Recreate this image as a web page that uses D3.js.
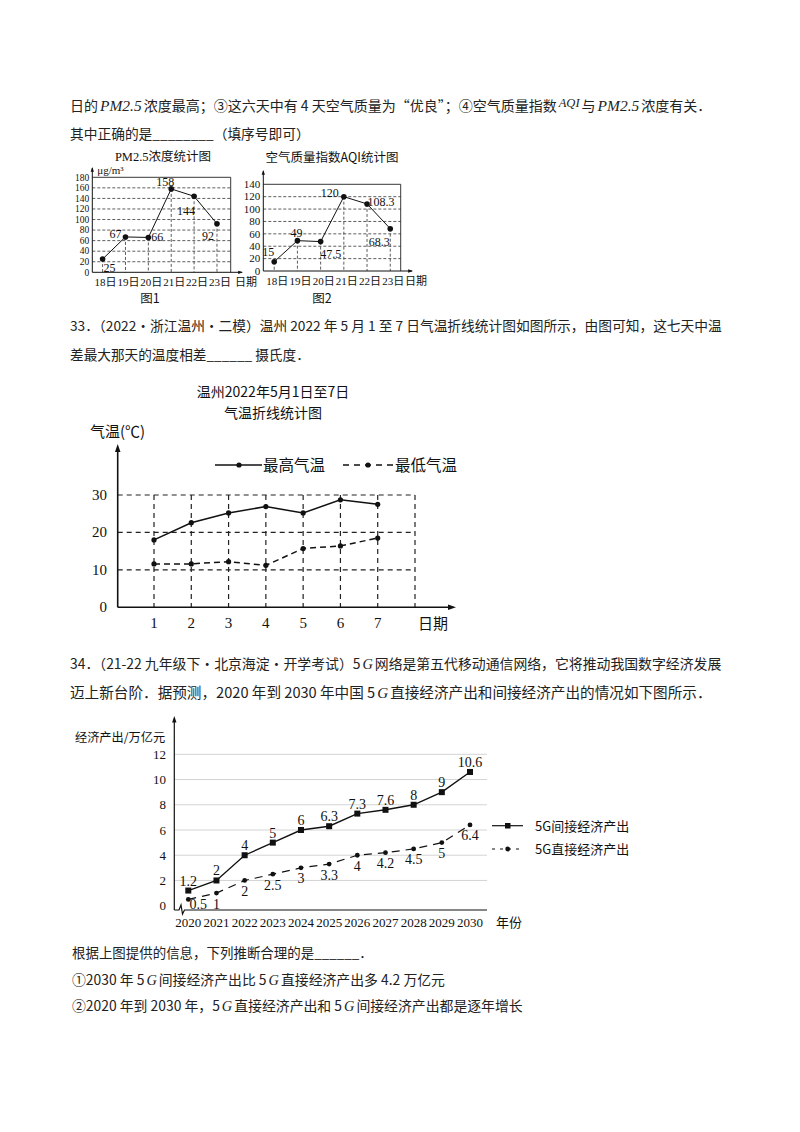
<!DOCTYPE html>
<html><head><meta charset="utf-8">
<script src="https://cdn.jsdelivr.net/npm/d3@7/dist/d3.min.js"></script>
<style>body{margin:0;background:#fff}svg{display:block}</style>
</head><body>
<script>
// ---------- data ----------
const pmDays = [18,19,20,21,22,23];
const pmValues = [25,67,66,158,144,92];
const pmTicks = [0,20,40,60,80,100,120,140,160,180];
const aqiDays = [18,19,20,21,22,23];
const aqiValues = [15,49,47.5,120,108.3,68.3];
const aqiTicks = [0,20,40,60,80,100,120,140];
const tempDays = [1,2,3,4,5,6,7];
const tempHigh = [18,22.6,25.2,26.9,25.2,28.7,27.5];
const tempLow = [11.6,11.6,12.2,11.2,15.7,16.4,18.5];
const tempTicks = [0,10,20,30];
const years = [2020,2021,2022,2023,2024,2025,2026,2027,2028,2029,2030];
const indirectOut = [1.2,2,4,5,6,6.3,7.3,7.6,8,9,10.6];
const directOut = [0.5,1,2,2.5,3,3.3,4,4.2,4.5,5,6.4];
const gTicks = [0,2,4,6,8,10,12];

// label offsets (layout only)
const pmLabelOff = [[7,9],[-10,-3],[9,0],[-6,-7],[-8,15],[-9,12]];
const aqiLabelOff = [[-6,-10],[-1,-8],[10,12],[-14,-4],[14,-2],[-11,13]];

const W = 800, H = 1132;
const svg = d3.select("body").append("svg").attr("width",W).attr("height",H);
svg.append("rect").attr("width",W).attr("height",H).attr("fill","#fff");

const SANS = "'Noto Sans CJK SC','Noto Sans',sans-serif";
const SERIF = "'Liberation Serif','DejaVu Serif','Noto Sans CJK SC',serif";

// ---------- body text: segments side by side, font size scaled so the line fits ----------
function bodyLine(x, y, len, parts){
  const GAP = 2;
  const g = svg.append("g").attr("fill","#222");
  const segs = parts.map(p=>{
    const o = typeof p === "string" ? {t:p} : p;
    const fs = o.s||(o.i?16:14.5);
    const t = g.append("text").attr("x",0).attr("y",y+5+(o.dy||0))
      .attr("font-size",fs).attr("font-family",o.i?SERIF:SANS)
      .attr("font-style",o.i?"italic":null).text(o.t);
    return {t, fs, w:t.node().getComputedTextLength()};
  });
  const total = d3.sum(segs,s=>s.w);
  const k = (len - GAP*(segs.length-1))/total;
  let cx = x;
  segs.forEach(s=>{
    s.t.attr("x",cx).attr("font-size",s.fs*k);
    cx += s.t.node().getComputedTextLength() + GAP;
  });
}
bodyLine(70,106,642,["日的",{t:"PM2.5",i:1},"浓度最高；③这六天中有 4 天空气质量为“优良”；④空气质量指数",{t:"AQI",i:1,s:13,dy:-4},"与",{t:"PM2.5",i:1},"浓度有关．"]);
bodyLine(70,134,240,["其中正确的是________（填序号即可）"]);
bodyLine(70,326,652,["33．（2022·浙江温州·二模）温州 2022 年 5 月 1 至 7 日气温折线统计图如图所示，由图可知，这七天中温"]);
bodyLine(70,355,240,["差最大那天的温度相差______  摄氏度．"]);
bodyLine(70,664,652,["34．（21-22 九年级下·北京海淀·开学考试）5",{t:"G",i:1,s:15},"网络是第五代移动通信网络，它将推动我国数字经济发展"]);
bodyLine(70,693,642,["迈上新台阶．据预测，2020 年到 2030 年中国 5",{t:"G",i:1,s:15},"直接经济产出和间接经济产出的情况如下图所示．"]);
bodyLine(72,953,301,["根据上图提供的信息，下列推断合理的是______．"]);
bodyLine(72,980,373,["①2030 年 5",{t:"G",i:1,s:15},"间接经济产出比 5",{t:"G",i:1,s:15},"直接经济产出多 4.2 万亿元"]);
bodyLine(72,1006,451,["②2020 年到 2030 年，5",{t:"G",i:1,s:15},"直接经济产出和 5",{t:"G",i:1,s:15},"间接经济产出都是逐年增长"]);

function arrowHead(g, x, y, dir, size){
  size = size||5;
  let pts;
  if(dir==="up") pts=[[x,y],[x-size*0.55,y+size*1.6],[x+size*0.55,y+size*1.6]];
  else pts=[[x,y],[x-size*1.6,y-size*0.55],[x-size*1.6,y+size*0.55]];
  g.append("path").attr("d","M"+pts.map(p=>p.join(",")).join("L")+"Z").attr("fill","#111");
}

// ---------- small chart helper (PM2.5 & AQI) ----------
function smallChart(cfg){
  const g = svg.append("g").attr("font-family",SERIF).attr("fill","#111");
  const x = d3.scaleLinear().domain(cfg.xDomain).range(cfg.xRange);
  const y = d3.scaleLinear().domain([0,d3.max(cfg.ticks)]).range(cfg.yRange);
  const x0 = cfg.xRange[0], x1 = cfg.xRange[1];
  const yTop = y(d3.max(cfg.ticks)), yBot = y(0);
  g.selectAll(".hg").data(cfg.ticks.filter(t=>t>0 && t<d3.max(cfg.ticks))).join("line")
    .attr("x1",x0).attr("x2",x1).attr("y1",d=>y(d)).attr("y2",d=>y(d))
    .attr("stroke","#333").attr("stroke-width",0.8).attr("stroke-dasharray","3,2");
  g.selectAll(".vg").data(cfg.days).join("line")
    .attr("x1",d=>x(d)).attr("x2",d=>x(d)).attr("y1",(d,i)=>y(cfg.values[i])).attr("y2",yBot)
    .attr("stroke","#333").attr("stroke-width",0.8).attr("stroke-dasharray","3,2");
  g.append("path").attr("d",`M${x0},${yTop}H${x1}V${yBot}`).attr("fill","none").attr("stroke","#222").attr("stroke-width",0.9);
  g.append("line").attr("x1",x0).attr("x2",x0).attr("y1",yBot).attr("y2",cfg.arrowTop).attr("stroke","#111").attr("stroke-width",1);
  arrowHead(g,x0,cfg.arrowTop-1,"up",3);
  g.append("line").attr("x1",x0).attr("x2",cfg.arrowRight).attr("y1",yBot).attr("y2",yBot).attr("stroke","#111").attr("stroke-width",1);
  arrowHead(g,cfg.arrowRight+1,yBot,"right",3);
  g.selectAll(".yt").data(cfg.ticks).join("text")
    .attr("x",x0-3).attr("y",d=>y(d)+cfg.tickFs*0.34).attr("text-anchor","end").attr("font-size",cfg.tickFs).text(d=>d);
  g.append("path").datum(cfg.days).attr("fill","none").attr("stroke","#111").attr("stroke-width",1)
    .attr("d",d3.line().x(d=>x(d)).y((d,i)=>y(cfg.values[i])));
  g.selectAll(".pt").data(cfg.days).join("circle")
    .attr("cx",d=>x(d)).attr("cy",(d,i)=>y(cfg.values[i])).attr("r",2.8).attr("fill","#111");
  g.selectAll(".vl").data(cfg.values).join("text")
    .attr("x",(d,i)=>x(cfg.days[i])+cfg.off[i][0]).attr("y",(d,i)=>y(d)+cfg.off[i][1]+4)
    .attr("text-anchor","middle").attr("font-size",12).text(d=>d);
  g.selectAll(".xl").data(cfg.days).join("text")
    .attr("x",d=>x(d)-8).attr("y",yBot+14).attr("font-size",11).text(d=>d+"日");
  g.append("text").attr("x",cfg.arrowRight-7).attr("y",yBot+14).attr("font-size",11).text("日期");
  g.append("text").attr("x",cfg.titleX).attr("y",cfg.titleY).attr("text-anchor","middle")
    .attr("font-size",12.5).attr("font-family",cfg.titleFont||SERIF).text(cfg.title);
  if(cfg.unit) g.append("text").attr("x",x0+5).attr("y",cfg.arrowTop+6).attr("font-size",11).text(cfg.unit);
  g.append("text").attr("x",cfg.figX).attr("y",303).attr("text-anchor","middle").attr("font-size",12.5)
    .attr("font-family",SANS).text(cfg.fig);
}

smallChart({days:pmDays, values:pmValues, ticks:pmTicks, xDomain:[17.55,23.6], xRange:[92.3,230.7],
  yRange:[272.3,177.3], arrowTop:168, arrowRight:242, off:pmLabelOff, tickFs:9.5,
  title:"PM2.5浓度统计图", titleX:163, titleY:161, unit:"μg/m³", fig:"图1", figX:150});
smallChart({days:aqiDays, values:aqiValues, ticks:aqiTicks, xDomain:[17.53,23.45], xRange:[263.3,400.7],
  yRange:[271,184.3], arrowTop:171, arrowRight:412, off:aqiLabelOff, tickFs:11,
  title:"空气质量指数AQI统计图", titleX:332, titleY:162, titleFont:SANS, fig:"图2", figX:322});

// ---------- temperature chart ----------
(function(){
  const g = svg.append("g").attr("fill","#111");
  const x = d3.scaleLinear().domain([1,8]).range([154,415]);
  const y = d3.scaleLinear().domain([0,30]).range([607.3,495]);
  const gridDays = tempDays.concat([8]);
  const ax0 = 117.7;
  g.selectAll(".h").data(tempTicks.filter(t=>t>0)).join("line")
    .attr("x1",ax0).attr("x2",x(8)).attr("y1",d=>y(d)).attr("y2",d=>y(d))
    .attr("stroke","#222").attr("stroke-width",1.2).attr("stroke-dasharray","5,4");
  g.selectAll(".v").data(gridDays).join("line")
    .attr("x1",d=>x(d)).attr("x2",d=>x(d)).attr("y1",y(30)).attr("y2",y(0))
    .attr("stroke","#222").attr("stroke-width",1.2).attr("stroke-dasharray","5,4");
  g.append("line").attr("x1",ax0).attr("x2",ax0).attr("y1",y(0)).attr("y2",448).attr("stroke","#111").attr("stroke-width",1.6);
  arrowHead(g,ax0,444,"up",5);
  g.append("line").attr("x1",ax0).attr("x2",452).attr("y1",y(0)).attr("y2",y(0)).attr("stroke","#111").attr("stroke-width",1.6);
  arrowHead(g,456,y(0),"right",5);
  g.selectAll(".yt").data(tempTicks).join("text").attr("x",107).attr("y",d=>y(d)+5)
    .attr("text-anchor","end").attr("font-size",15).attr("font-family",SERIF).text(d=>d);
  g.selectAll(".xt").data(tempDays).join("text").attr("x",d=>x(d)).attr("y",628)
    .attr("text-anchor","middle").attr("font-size",15).attr("font-family",SERIF).text(d=>d);
  g.append("text").attr("x",418).attr("y",629).attr("font-size",15).attr("font-family",SANS).text("日期");
  g.append("text").attr("x",90).attr("y",437).attr("font-size",15).attr("font-family",SANS).text("气温(℃)");
  g.append("text").attr("x",273).attr("y",397).attr("text-anchor","middle").attr("font-size",14).attr("font-family",SANS).text("温州2022年5月1日至7日");
  g.append("text").attr("x",273).attr("y",417.5).attr("text-anchor","middle").attr("font-size",14).attr("font-family",SANS).text("气温折线统计图");
  const line = vals => d3.line().x((d,i)=>x(tempDays[i])).y(d=>y(d))(vals);
  g.append("path").attr("d",line(tempHigh)).attr("fill","none").attr("stroke","#111").attr("stroke-width",1.5);
  g.append("path").attr("d",line(tempLow)).attr("fill","none").attr("stroke","#111").attr("stroke-width",1.5).attr("stroke-dasharray","6,4");
  [tempHigh,tempLow].forEach(vals=>{
    g.append("g").selectAll("circle").data(vals).join("circle")
      .attr("cx",(d,i)=>x(tempDays[i])).attr("cy",d=>y(d)).attr("r",2.6).attr("fill","#111");
  });
  g.append("line").attr("x1",215).attr("x2",262).attr("y1",465).attr("y2",465).attr("stroke","#111").attr("stroke-width",1.5);
  g.append("circle").attr("cx",239).attr("cy",465).attr("r",2.6);
  g.append("text").attr("x",263).attr("y",470.5).attr("font-size",15.5).attr("font-family",SANS).text("最高气温");
  g.append("line").attr("x1",343).attr("x2",393).attr("y1",465).attr("y2",465).attr("stroke","#111").attr("stroke-width",1.5).attr("stroke-dasharray","6,5");
  g.append("circle").attr("cx",368).attr("cy",465).attr("r",2.6);
  g.append("text").attr("x",395).attr("y",470.5).attr("font-size",15.5).attr("font-family",SANS).text("最低气温");
})();

// ---------- 5G chart ----------
(function(){
  const g = svg.append("g").attr("fill","#111");
  const x = d3.scaleLinear().domain([2020,2030]).range([188.3,470]);
  const y = d3.scaleLinear().domain([0,12]).range([905.7,754.3]);
  const ax0 = 174.3, axY = 910;
  g.selectAll(".h").data(gTicks.filter(t=>t>0)).join("line")
    .attr("x1",ax0).attr("x2",487).attr("y1",d=>y(d)).attr("y2",d=>y(d))
    .attr("stroke","#d4d4d4").attr("stroke-width",1);
  g.append("line").attr("x1",ax0).attr("x2",ax0).attr("y1",axY).attr("y2",721).attr("stroke","#111").attr("stroke-width",1.2);
  arrowHead(g,ax0,716,"up",4);
  g.append("path").attr("d",`M${ax0},${axY}H179L181,905L182.5,914L184.5,${axY}H487`).attr("fill","none").attr("stroke","#111").attr("stroke-width",1.2);
  g.selectAll(".yt").data(gTicks).join("text").attr("x",166).attr("y",d=>y(d)+4.5)
    .attr("text-anchor","end").attr("font-size",13).attr("font-family",SERIF).text(d=>d);
  g.selectAll(".xt").data(years).join("text").attr("x",d=>x(d)).attr("y",927)
    .attr("text-anchor","middle").attr("font-size",13).attr("font-family",SERIF).text(d=>d);
  g.append("text").attr("x",496).attr("y",927).attr("font-size",13).attr("font-family",SANS).text("年份");
  g.append("text").attr("x",75).attr("y",741.5).attr("font-size",12.2).attr("font-family",SANS).text("经济产出/万亿元");
  const line = vals => d3.line().x((d,i)=>x(years[i])).y(d=>y(d))(vals);
  g.append("path").attr("d",line(indirectOut)).attr("fill","none").attr("stroke","#111").attr("stroke-width",1.4);
  g.append("path").attr("d",line(directOut)).attr("fill","none").attr("stroke","#111").attr("stroke-width",1.2).attr("stroke-dasharray","8,6");
  g.selectAll(".sq").data(indirectOut).join("rect")
    .attr("x",(d,i)=>x(years[i])-3).attr("y",d=>y(d)-3).attr("width",6).attr("height",6);
  g.selectAll(".dc").data(directOut).join("circle")
    .attr("cx",(d,i)=>x(years[i])).attr("cy",d=>y(d)).attr("r",2.4);
  g.selectAll(".il").data(indirectOut).join("text")
    .attr("x",(d,i)=>x(years[i])).attr("y",d=>y(d)-5).attr("text-anchor","middle")
    .attr("font-size",14).attr("font-family",SERIF).text(d=>d);
  g.selectAll(".dl").data(directOut).join("text")
    .attr("x",(d,i)=>x(years[i])+(i===0?10:0)).attr("y",(d,i)=>y(d)+(i===0?10:15.5)).attr("text-anchor","middle")
    .attr("font-size",14).attr("font-family",SERIF).text(d=>d);
  g.append("line").attr("x1",492).attr("x2",523).attr("y1",825.7).attr("y2",825.7).attr("stroke","#111").attr("stroke-width",1.2);
  g.append("rect").attr("x",505).attr("y",823).attr("width",5.5).attr("height",5.5);
  g.append("text").attr("x",535).attr("y",830.5).attr("font-size",13).attr("font-family",SANS).text("5G间接经济产出");
  g.append("line").attr("x1",492).attr("x2",524).attr("y1",849).attr("y2",849).attr("stroke","#111").attr("stroke-width",1.2).attr("stroke-dasharray","3,5");
  g.append("circle").attr("cx",507.7).attr("cy",849).attr("r",2.4);
  g.append("text").attr("x",535).attr("y",854).attr("font-size",13).attr("font-family",SANS).text("5G直接经济产出");
})();
</script>
</body></html>
